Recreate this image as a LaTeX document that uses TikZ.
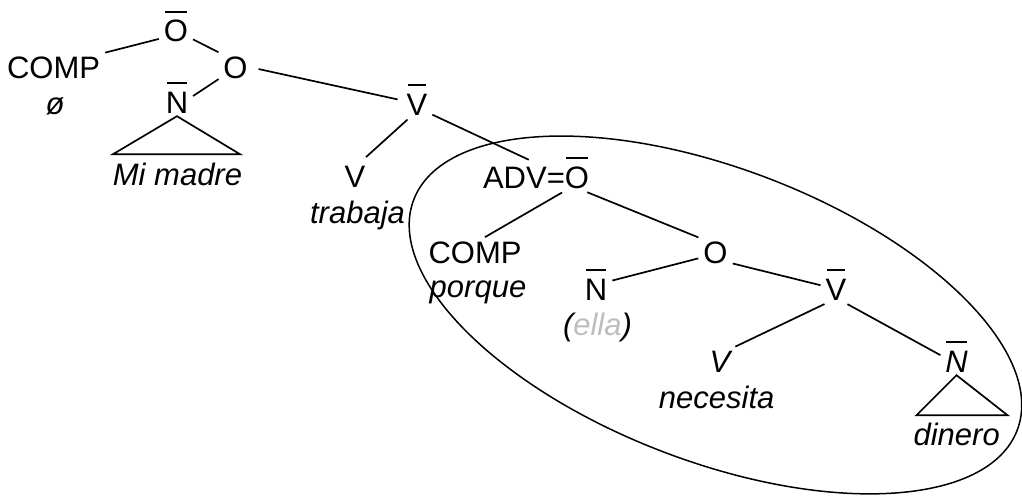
\documentclass[tikz,border=0pt]{standalone}
\usepackage{xcolor}
\usepackage{fontspec}
\setmainfont{Liberation Sans}
\usepackage{tikz}
\usetikzlibrary{calc}
\definecolor{gris}{RGB}{190,190,190}
\tikzset{
  cat/.style={font=\fontsize{31}{36}\selectfont, inner sep=3pt, anchor=base},
  lex/.style={cat, font=\fontsize{31}{36}\selectfont\itshape},
  rama/.style={draw=black, line width=1.7pt, shorten <=2pt, shorten >=2pt},
  tri/.style={draw=black, line width=1.7pt, line join=miter},
  rodeo/.style={draw=black, line width=1.5pt}
}
\newcommand{\barra}[1]{\setbox0\hbox{#1}\rlap{\hbox to\wd0{\hss\smash{\rule[\dimexpr\ht0+7.5pt\relax]{0.9\wd0}{2pt}}\hss}}\box0}

\begin{document}
\begin{tikzpicture}[x=1pt,y=-1pt]
\useasboundingbox (0,0) rectangle (1022,495);

\node[cat] (ob) at (176,42) {\barra{O}};
\node[cat] (comp) at (53.5,78) {COMP};
\node[lex] (nulo) at (55,114) {ø};
\node[cat] (o) at (235.5,78) {O};
\node[cat] (nm) at (177,113) {\barra{N}};
\node[lex] (madre) at (177.5,185) {Mi madre};
\node[cat] (vb) at (417,115) {\barra{V}};
\node[cat] (v) at (355,187) {V};
\node[lex] (trabaja) at (357.5,223) {trabaja};
\node[cat] (adv) at (536,188) {ADV=\barra{O}};
\node[cat] (comp2) at (475,263) {COMP};
\node[lex] (porque) at (478,297) {porque};
\node[cat] (nm2) at (596,300) {\barra{N}};
\node[lex] (ella) at (597.5,335) {({\color{gris}ella})};
\node[cat] (o2) at (715.5,263) {O};
\node[cat] (vb2) at (836,300) {\barra{V}};
\node[lex] (vi) at (720,372) {V};
\node[lex] (necesita) at (716.7,408) {necesita};
\node[lex] (ni) at (956.5,372) {\barra{N}};
\node[lex] (dinero) at (956.7,445) {dinero};

\draw[rama] (ob.205) -- (comp.north east);
\draw[rama] (ob.-25) -- (o.north west);
\draw[rama] (o.215) -- (nm.20);
\draw[rama, shorten <=8pt, shorten >=6pt] (o.east) -- (vb.165);
\draw[rama, shorten >=8pt] (vb.240) -- (v.70);
\draw[rama, shorten >=8pt] (vb.-35) -- (adv.north);
\draw[rama] (adv.-27) -- (comp2.60);
\draw[rama] (adv.-16) -- (o2.north west);
\draw[rama] (o2.200) -- (nm2.30);
\draw[rama] (o2.-35) -- (vb2.165);
\draw[rama] (vb2.235) -- (vi.north east);
\draw[rama] (vb2.-55) -- (ni.160);

\draw[tri] (nm.south) -- ++(-64,38) -- ++(127,0) -- cycle;
\draw[tri] (ni.south) -- ++(-40,40) -- ++(91,0) -- cycle;

\coordinate (centro) at (715.5,315);
\draw[rodeo, rotate around={-20.9:(centro)}] (centro) ellipse [x radius=323, y radius=146.5];

\end{tikzpicture}
\end{document}
